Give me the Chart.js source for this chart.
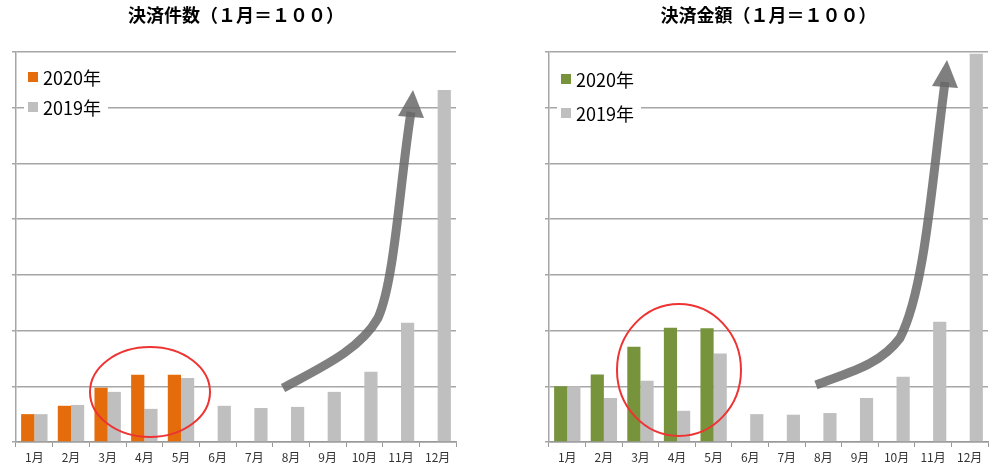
<!DOCTYPE html>
<html>
<head>
<meta charset="utf-8">
<script src="https://cdn.jsdelivr.net/npm/chart.js@4/dist/chart.umd.min.js"></script>
<style>
  body { margin: 0; background: #fff; }
  .box { position: absolute; top: 0; height: 470px; }
</style>
</head>
<body>
<div class="box" style="left:0;width:470px"><canvas id="graph_count"></canvas></div>
<div class="box" style="left:520px;width:480px"><canvas id="graph_amount"></canvas></div>
<script>
// datos
const months = ['1月', '2月', '3月', '4月', '5月', '6月', '7月', '8月', '9月', '10月', '11月', '12月'];
const count2020 = [100, 130, 195, 241, 241, null, null, null, null, null, null, null];
const count2019 = [100, 133, 180, 119, 230, 130, 122, 126, 180, 252, 428, 1264];
const amount2020 = [100, 121, 171, 205, 204, null, null, null, null, null, null, null];
const amount2019 = [100, 79, 110, 56, 159, 50, 49, 52, 79, 117, 216, 697];

const FONT = "'Noto Sans CJK JP', 'Noto Sans', sans-serif";

// dibuja título, leyenda, círculo y flecha
function decoPlugin(cfg) {
    return {
        id: 'deco',
        afterDraw(chart) {
            const c = chart.ctx;
            const a = chart.chartArea;
            c.save();
            c.fillStyle = '#000';
            c.font = 'bold 18px ' + FONT;
            c.textAlign = 'center';
            c.textBaseline = 'middle';
            c.fillText(cfg.title, (a.left + a.right) / 2, 15);

            c.font = '18px ' + FONT;
            c.textAlign = 'left';
            cfg.legend.forEach((l, i) => {
                const y = cfg.legendY + i * cfg.legendGap;
                c.fillStyle = '#fff';
                c.fillRect(a.left + 8, y - 12, 84, 24);
                c.fillStyle = l.color;
                c.fillRect(a.left + 12, y - 5, 10, 10);
                c.fillStyle = '#000';
                c.fillText(l.text, a.left + 27, y + 1);
            });

            const e = cfg.ellipse;
            c.strokeStyle = '#ee3333';
            c.lineWidth = 2;
            c.beginPath();
            c.ellipse(e[0], e[1], e[2], e[3], 0, 0, Math.PI * 2);
            c.stroke();

            const p = cfg.arrow;
            c.strokeStyle = 'rgba(105,105,105,0.85)';
            c.fillStyle = 'rgba(105,105,105,0.85)';
            c.lineWidth = 9;
            c.beginPath();
            c.moveTo(p[0], p[1]);
            c.bezierCurveTo(p[2], p[3], p[4], p[5], p[6], p[7]);
            c.bezierCurveTo(p[8], p[9], p[10], p[11], p[12], p[13]);
            c.stroke();
            c.beginPath();
            c.moveTo(p[12] - 13, p[13] + 4);
            c.lineTo(p[12] + 2, p[13] - 22);
            c.lineTo(p[12] + 13, p[13] + 6);
            c.closePath();
            c.fill();
            c.restore();
        }
    };
}

function createChart(id, d2020, d2019, color, max, step, yWidth, padRight, cfg) {
    const ctx = document.getElementById(id).getContext('2d');
    new Chart(ctx, {
        type: 'bar',
        data: {
            labels: months,
            datasets: [
                { label: '2020年', data: d2020, backgroundColor: color },
                { label: '2019年', data: d2019, backgroundColor: '#bfbfbf' }
            ]
        },
        options: {
            responsive: false,
            animation: false,
            devicePixelRatio: 1,
            layout: { padding: { top: 52, right: padRight, left: 0, bottom: 0 } },
            datasets: { bar: { categoryPercentage: 0.72, barPercentage: 1 } },
            plugins: { legend: { display: false }, title: { display: false }, tooltip: { enabled: false } },
            scales: {
                x: {
                    afterFit: s => { s.height = 28; },
                    grid: { offset: true, drawOnChartArea: false, tickLength: 5, color: '#999' },
                    border: { color: '#999', width: 1.5 },
                    ticks: { color: '#333', font: { size: 12, family: FONT }, padding: 3 }
                },
                y: {
                    min: 0, max: max,
                    afterFit: s => { s.width = yWidth; },
                    ticks: { display: false, stepSize: step },
                    grid: { color: '#a6a6a6', lineWidth: 1.5, tickLength: 4 },
                    border: { color: '#a6a6a6', width: 1.5 }
                }
            }
        },
        plugins: [decoPlugin(cfg)]
    });
}

function setSize(id, w) {
    const cv = document.getElementById(id);
    cv.width = w; cv.height = 470;
}

setSize('graph_count', 470);
setSize('graph_amount', 480);

createChart('graph_count', count2020, count2019, '#e46c0a', 1400, 200, 16, 14, {
    title: '決済件数（１月＝１００）',
    legend: [{ text: '2020年', color: '#e46c0a' }, { text: '2019年', color: '#bfbfbf' }],
    legendY: 77, legendGap: 30,
    ellipse: [150, 392, 60, 45],
    arrow: [283, 388, 320, 368, 360, 350, 378, 318, 395, 280, 400, 180, 411, 112]
});

createChart('graph_amount', amount2020, amount2019, '#77933c', 700, 100, 29, 12, {
    title: '決済金額（１月＝１００）',
    legend: [{ text: '2020年', color: '#77933c' }, { text: '2019年', color: '#bfbfbf' }],
    legendY: 79, legendGap: 34,
    ellipse: [159, 370, 62, 66],
    arrow: [296, 385, 330, 372, 360, 365, 380, 338, 405, 290, 412, 180, 425, 82]
});
</script>
</body>
</html>
